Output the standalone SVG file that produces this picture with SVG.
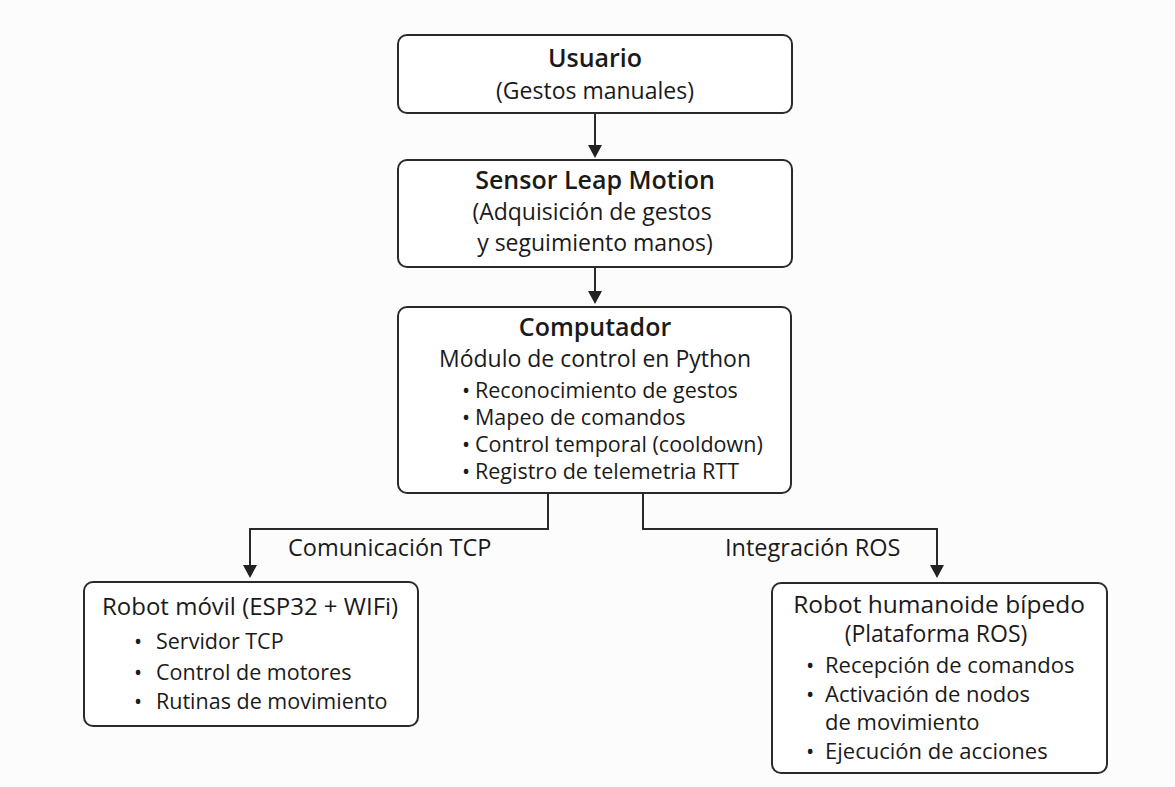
<svg xmlns="http://www.w3.org/2000/svg" width="1175" height="787" viewBox="0 0 1175 787">
<defs>
<style>
.box{fill:#fff;stroke:#2a2a2a;stroke-width:2}
.t{font-family:"Open Sans","Noto Sans",sans-serif;fill:#1a1a1a;font-size:23px}
.b{font-weight:600;font-size:25px}
.i{font-size:21.5px}
.c{text-anchor:middle}
.ln{fill:none;stroke:#2a2a2a;stroke-width:2}
.ah{fill:#222}
</style>
</defs>
<rect width="1175" height="787" fill="#fcfcfc"/>
<g id="connectors">
<path class="ln" d="M595,113 V146"/>
<path class="ah" d="M588,145 L602,145 L595,158 z"/>
<path class="ln" d="M595,267 V292"/>
<path class="ah" d="M588,291 L602,291 L595,304 z"/>
<path class="ln" d="M548,493 V529 H250 V566"/>
<path class="ah" d="M243,565 L257,565 L250,578 z"/>
<path class="ln" d="M643,493 V529 H937 V566"/>
<path class="ah" d="M930,565 L944,565 L937,578 z"/>
<text class="t" x="288" y="556" style="font-size:23.5px">Comunicación TCP</text>
<text class="t" x="725" y="556" style="font-size:23.5px">Integración ROS</text>
</g>
<g id="usuario">
<rect class="box" x="398" y="35" width="394" height="78" rx="9"/>
<text class="t c" x="595"><tspan class="b" x="595" y="67">Usuario</tspan><tspan x="595" y="99">(Gestos manuales)</tspan></text>
</g>
<g id="sensor">
<rect class="box" x="398" y="160" width="394" height="107" rx="9"/>
<text class="t c"><tspan class="b" x="595" y="189">Sensor Leap Motion</tspan><tspan x="592" y="220">(Adquisición de gestos</tspan><tspan x="595" y="251">y seguimiento manos)</tspan></text>
</g>
<g id="computador">
<rect class="box" x="398" y="307" width="393" height="186" rx="9"/>
<text class="t c"><tspan class="b" x="595" y="336">Computador</tspan><tspan x="595" y="367">Módulo de control en Python</tspan></text>
<text class="t i"><tspan x="462" y="398">•</tspan><tspan x="475" y="398">Reconocimiento de gestos</tspan><tspan x="462" y="425">•</tspan><tspan x="475" y="425">Mapeo de comandos</tspan><tspan x="462" y="452">•</tspan><tspan x="475" y="452">Control temporal (cooldown)</tspan><tspan x="462" y="479">•</tspan><tspan x="475" y="479">Registro de telemetria RTT</tspan></text>
</g>
<g id="robot-movil">
<rect class="box" x="84" y="582" width="334" height="144" rx="9"/>
<text class="t" x="102" y="615" style="font-size:24px">Robot móvil (ESP32 + WIFi)</text>
<text class="t i"><tspan x="134" y="649">•</tspan><tspan x="156" y="649">Servidor TCP</tspan><tspan x="134" y="680">•</tspan><tspan x="156" y="680">Control de motores</tspan><tspan x="134" y="709">•</tspan><tspan x="156" y="709">Rutinas de movimiento</tspan></text>
</g>
<g id="robot-humanoide">
<rect class="box" x="772" y="583" width="335" height="190" rx="9"/>
<text class="t c"><tspan x="939" y="613" style="font-size:24.5px">Robot humanoide bípedo</tspan><tspan x="936" y="642">(Plataforma ROS)</tspan></text>
<text class="t" style="font-size:22px"><tspan x="806" y="673">•</tspan><tspan x="825" y="673">Recepción de comandos</tspan><tspan x="806" y="702">•</tspan><tspan x="825" y="702">Activación de nodos</tspan><tspan x="825" y="730">de movimiento</tspan><tspan x="806" y="759">•</tspan><tspan x="825" y="759">Ejecución de acciones</tspan></text>
</g>
</svg>
